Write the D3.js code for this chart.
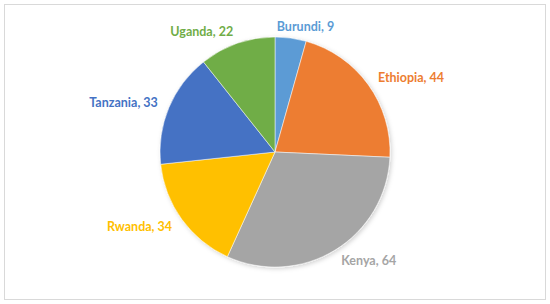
<!DOCTYPE html>
<html>
<head>
<meta charset="utf-8">
<script src="https://cdn.jsdelivr.net/npm/d3@7"></script>
<style>
  body { margin: 0; background: #fff; }
  .label { font-family: Lato, "Open Sans", sans-serif; font-weight: 700; font-size: 12.5px; }
</style>
</head>
<body>
<div id="chart"></div>
<script>
var countries = ["Burundi", "Ethiopia", "Kenya", "Rwanda", "Tanzania", "Uganda"];
var values = [9, 44, 64, 34, 33, 22];
var colors = ["#5B9BD5", "#ED7D31", "#A5A5A5", "#FFC000", "#4472C4", "#70AD47"];

var svgWidth = 550;
var svgHeight = 304;
var cx = 275, cy = 152, radius = 115;

var svg = d3.select("#chart")
  .append("svg")
  .attr("width", svgWidth)
  .attr("height", svgHeight);

// outer frame
svg.append("rect")
  .attr("x", 4.5)
  .attr("y", 4.5)
  .attr("width", 541)
  .attr("height", 295)
  .attr("fill", "#fff")
  .attr("stroke", "#d9d9d9")
  .attr("stroke-width", 1);

var defs = svg.append("defs");
var shadow = defs.append("filter")
  .attr("id", "shadow")
  .attr("x", "-20%").attr("y", "-20%")
  .attr("width", "140%").attr("height", "140%");
shadow.append("feDropShadow")
  .attr("dx", 1.5).attr("dy", 1.5)
  .attr("stdDeviation", 2)
  .attr("flood-color", "#000")
  .attr("flood-opacity", 0.18);

var data = countries.map(function(c, i) {
  return { name: c, value: values[i], color: colors[i] };
});

var pie = d3.pie()
  .sort(null)
  .value(d => d.value);

var arc = d3.arc()
  .innerRadius(0)
  .outerRadius(radius);

var chartGroup = svg.append("g")
  .attr("transform", `translate(${cx}, ${cy})`);

var arcs = pie(data);

chartGroup.append("g")
  .attr("filter", "url(#shadow)")
  .selectAll("path")
  .data(arcs)
  .enter()
  .append("path")
  .attr("d", arc)
  .attr("fill", d => d.data.color)
  .attr("stroke", "#fff")
  .attr("stroke-width", 0.5);

// labels just outside the slices
var labelR = radius + 12;
var labels = chartGroup.selectAll("text.label")
  .data(arcs)
  .enter()
  .append("text")
  .attr("class", "label")
  .attr("fill", d => d.data.color)
  .attr("text-anchor", "middle")
  .attr("dy", "0.35em")
  .text(d => d.data.name + ", " + d.data.value);

labels.each(function(d) {
  var a = (d.startAngle + d.endAngle) / 2;
  var s = Math.sin(a), c = Math.cos(a);
  var px = s * labelR, py = -c * labelR;
  var w = this.getComputedTextLength();
  var shift = Math.sign(s) * (w / 2) * Math.min(1, Math.abs(s) / 0.3);
  d3.select(this)
    .attr("x", px + shift)
    .attr("y", py);
});
</script>
</body>
</html>
